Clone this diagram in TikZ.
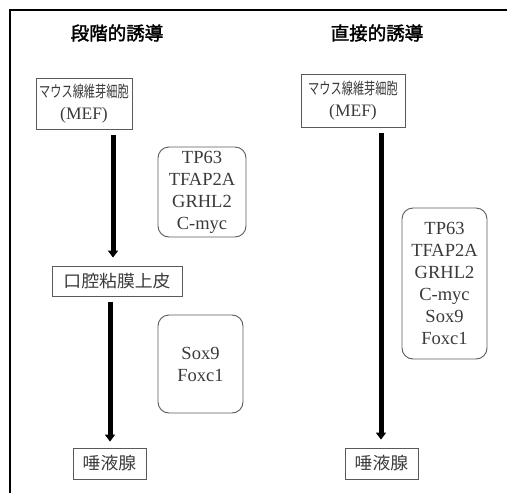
\documentclass[tikz,border=0pt]{standalone}
\usepackage{fontspec}
\usetikzlibrary{arrows.meta}
\setmainfont{Liberation Serif}
\newfontfamily\jp[FakeStretch=0.7]{Noto Sans CJK JP}
\newfontfamily\jpwide[FakeStretch=1.05]{Noto Sans CJK JP}
\newfontfamily\jptitle[AutoFakeBold=2]{Noto Sans CJK JP}
\newfontfamily\lat{Liberation Serif}
\definecolor{txt}{HTML}{3A3A3A}
\definecolor{edge}{HTML}{5A5A5A}
\tikzset{
  titletext/.style={text=black,font=\jptitle\bfseries\fontsize{18.5}{20}\selectfont,inner sep=0pt},
  plainbox/.style={draw=edge,line width=0.9pt,text=txt,align=center,inner sep=0pt,
    font=\jp\fontsize{16}{21.5}\selectfont},
  bigbox/.style={draw=edge,line width=0.9pt,text=txt,align=center,inner sep=0pt,
    font=\jpwide\fontsize{17}{21}\selectfont},
  genebox/.style={draw=edge,line width=0.9pt,rounded corners=11pt,text=txt,align=center,inner sep=0pt,
    font=\lat\fontsize{18.5}{22}\selectfont},
  bigarrow/.style={line width=5pt,-{Triangle[width=10pt,length=7pt]}}
}
\begin{document}
\begin{tikzpicture}[x=1pt,y=-1pt]
\useasboundingbox (0,0) rectangle (507,493);
% frame (top and left edges)
\draw[line width=2.5pt,line cap=rect] (507,10) -- (10,10) -- (10,493);
% titles
\node[titletext] (tl) at (117,33) {段階的誘導};
\node[titletext] (tr) at (377,33) {直接的誘導};
% left column
\node[plainbox,minimum width=96pt,minimum height=51pt] (mefL) at (84,103.5)
  {マウス線維芽細胞\\{\lat\fontsize{17.5}{21.5}\selectfont (MEF)}};
\node[genebox,minimum width=88pt,minimum height=90pt] (g1) at (202,192)
  {TP63\\TFAP2A\\GRHL2\\C-myc};
\node[bigbox,minimum width=130pt,minimum height=30pt] (oral) at (117,281) {口腔粘膜上皮};
\node[genebox,minimum width=85pt,minimum height=98pt] (g2) at (200.5,364)
  {Sox9\\Foxc1};
\node[bigbox,minimum width=73pt,minimum height=31pt] (salL) at (109.5,463.5) {唾液腺};
% right column
\node[plainbox,minimum width=104pt,minimum height=53pt] (mefR) at (353,100.5)
  {マウス線維芽細胞\\{\lat\fontsize{17.5}{21.5}\selectfont (MEF)}};
\node[genebox,minimum width=85pt,minimum height=151pt] (g3) at (444.5,283.5)
  {TP63\\TFAP2A\\GRHL2\\C-myc\\Sox9\\Foxc1};
\node[bigbox,minimum width=73pt,minimum height=31pt] (salR) at (381.5,463.5) {唾液腺};
% arrows
\coordinate (a1) at (113,0);
\coordinate (a2) at (110,0);
\coordinate (a3) at (381,0);
\draw[bigarrow,shorten <=6pt,shorten >=8pt] (mefL.south -| a1) -- (oral.north -| a1);
\draw[bigarrow,shorten <=6pt,shorten >=6pt] (oral.south -| a2) -- (salL.north -| a2);
\draw[bigarrow,shorten <=6pt,shorten >=8pt] (mefR.south -| a3) -- (salR.north -| a3);
\end{tikzpicture}
\end{document}
